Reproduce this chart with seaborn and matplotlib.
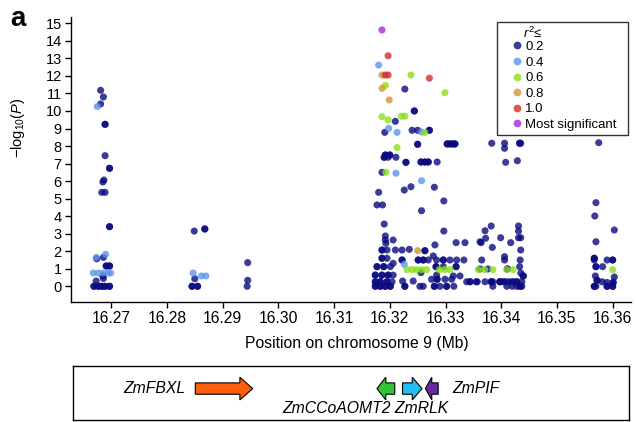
import numpy as np
import pandas as pd
import seaborn as sns
import matplotlib.pyplot as plt
from matplotlib.lines import Line2D

sns.set_theme(style="ticks")
plt.rcParams["font.family"] = ["Liberation Sans", "DejaVu Sans"]
plt.rcParams["mathtext.fontset"] = "custom"
plt.rcParams["mathtext.rm"] = "Liberation Sans"
plt.rcParams["mathtext.it"] = "Liberation Sans:italic"
for k in ["text.color", "axes.labelcolor", "xtick.color", "ytick.color"]:
    plt.rcParams[k] = "black"

# LD classes (r2 <=) and their colours
r2_classes = ["0.2", "0.4", "0.6", "0.8", "1.0", "Most significant"]
r2_colors = ["#0a0a80", "#5c95ec", "#88e018", "#d39531", "#cd312b", "#a12ae0"]

# (position Mb, -log10 P) per class
snp_02 = [
    # 16.27 block
    (16.2681, 11.18), (16.2686, 10.80), (16.2681, 10.40),
    (16.2689, 9.24), (16.2689, 9.24), (16.2689, 7.45),
    (16.2697, 6.73), (16.2697, 6.73), (16.2687, 6.06), (16.2685, 5.95),
    (16.2683, 5.36), (16.2689, 5.36), (16.2697, 3.40), (16.2697, 3.40),
    (16.2674, 1.57), (16.2686, 1.65),
    (16.2691, 1.16), (16.2691, 1.16), (16.2697, 1.16), (16.2697, 1.16),
    (16.2685, 0.59), (16.2686, 0.45), (16.2673, 0.30),
    (16.2669, 0.0), (16.2669, 0.0), (16.2677, 0.0), (16.2677, 0.0),
    (16.2683, 0.0), (16.2683, 0.0), (16.2689, 0.0), (16.2689, 0.0),
    (16.2697, 0.0), (16.2697, 0.0),
    # 16.285 / 16.294
    (16.2849, 3.15), (16.2868, 3.27), (16.2868, 3.27), (16.2850, 0.43),
    (16.2845, 0.0), (16.2845, 0.0), (16.2855, 0.0), (16.2855, 0.0),
    (16.2945, 1.35), (16.2945, 0.34), (16.2944, 0.0),
    # main block, upper part
    (16.3227, 11.25), (16.3244, 10.0), (16.3244, 10.0), (16.3210, 9.41),
    (16.3191, 8.78), (16.3240, 8.90), (16.3250, 8.90), (16.3271, 8.90), (16.3271, 8.90),
    (16.3250, 8.10), (16.3250, 8.10),
    (16.3303, 8.12), (16.3303, 8.12), (16.3308, 8.12), (16.3308, 8.12),
    (16.3313, 8.12), (16.3313, 8.12), (16.3317, 8.12), (16.3317, 8.12),
    (16.3383, 8.16), (16.3406, 8.16), (16.3406, 7.87),
    (16.3433, 8.16), (16.3433, 8.16), (16.3435, 8.16),
    (16.3192, 7.49), (16.3192, 7.49), (16.3200, 7.49), (16.3200, 7.49),
    (16.3190, 7.36), (16.3190, 7.36), (16.3197, 7.36), (16.3211, 7.36),
    (16.3229, 7.07), (16.3229, 7.07),
    (16.3256, 7.09), (16.3256, 7.09), (16.3263, 7.09), (16.3263, 7.09),
    (16.3269, 7.09), (16.3269, 7.09), (16.3285, 7.09),
    (16.3408, 7.07), (16.3429, 7.16),
    (16.3186, 6.50), (16.3226, 5.49), (16.3238, 5.68), (16.3280, 5.65),
    (16.3180, 5.36), (16.3177, 4.64), (16.3187, 4.64), (16.3297, 4.87),
    (16.3257, 4.31), (16.3190, 3.55),
    (16.3192, 2.87), (16.3192, 2.64), (16.3193, 2.45), (16.3206, 2.64),
    (16.3297, 3.15), (16.3319, 2.49), (16.3335, 2.49), (16.3362, 2.54),
    (16.3371, 3.17), (16.3382, 3.44), (16.3431, 3.44), (16.3431, 3.15),
    (16.3431, 2.77), (16.3435, 2.77), (16.3372, 2.74), (16.3364, 2.49),
    (16.3399, 2.77), (16.3417, 2.49), (16.3384, 2.22), (16.3435, 2.07),
    (16.3406, 1.69), (16.3406, 1.50), (16.3365, 1.50), (16.3434, 1.50),
    (16.3281, 2.36),
    # main block, y 1.5 - 2
    (16.3186, 2.07), (16.3186, 2.07), (16.3195, 2.07), (16.3210, 2.07),
    (16.3222, 2.07), (16.3235, 2.11), (16.3263, 2.03), (16.3263, 2.03),
    (16.3278, 1.73), (16.3186, 1.60), (16.3186, 1.60), (16.3195, 1.60),
    (16.3222, 1.50), (16.3222, 1.50), (16.3251, 1.50), (16.3251, 1.50),
    (16.3260, 1.50), (16.3260, 1.50), (16.3269, 1.50), (16.3284, 1.50),
    (16.3296, 1.50), (16.3296, 1.50), (16.3308, 1.50), (16.3320, 1.50),
    (16.3333, 1.50),
    # main block, y ~ 1
    (16.3177, 1.12), (16.3177, 1.12), (16.3189, 1.12), (16.3189, 1.12),
    (16.3201, 1.12), (16.3206, 1.31), (16.3283, 1.12), (16.3283, 1.12),
    (16.3296, 1.12), (16.3319, 1.12), (16.3319, 1.12), (16.3256, 0.78),
    (16.3284, 0.64), (16.3362, 0.99), (16.3376, 0.99), (16.3411, 0.99),
    (16.3411, 0.99), (16.3433, 1.12), (16.3435, 0.76), (16.3439, 0.59),
    # main block, bottom rows
    (16.3174, 0.64), (16.3174, 0.64), (16.3186, 0.64), (16.3186, 0.64),
    (16.3197, 0.64), (16.3197, 0.64), (16.3206, 0.64),
    (16.3174, 0.26), (16.3174, 0.26), (16.3183, 0.26), (16.3183, 0.26),
    (16.3195, 0.26), (16.3195, 0.26), (16.3204, 0.26),
    (16.3174, 0.0), (16.3174, 0.0), (16.3183, 0.0), (16.3183, 0.0),
    (16.3192, 0.0), (16.3192, 0.0), (16.3201, 0.0), (16.3201, 0.0),
    (16.3223, 0.30), (16.3242, 0.30), (16.3227, 0.0), (16.3227, 0.0),
    (16.3254, 0.0), (16.3260, 0.0),
    (16.3275, 0.40), (16.3285, 0.40), (16.3285, 0.40), (16.3299, 0.40), (16.3311, 0.40),
    (16.3280, 0.0), (16.3280, 0.0), (16.3290, 0.0), (16.3302, 0.0), (16.3302, 0.0),
    (16.3315, 0.0), (16.3314, 0.59), (16.3326, 0.59),
    (16.3338, 0.26), (16.3344, 0.26), (16.3344, 0.26), (16.3355, 0.26),
    (16.3357, 0.26), (16.3371, 0.26), (16.3382, 0.26), (16.3382, 0.26),
    (16.3385, 0.26), (16.3397, 0.26), (16.3398, 0.26), (16.3398, 0.26),
    (16.3404, 0.26), (16.3407, 0.26), (16.3413, 0.26), (16.3419, 0.26),
    (16.3422, 0.26), (16.3428, 0.26), (16.3428, 0.26), (16.3437, 0.26),
    (16.3440, 0.59), (16.3385, 0.0), (16.3410, 0.0), (16.3420, 0.0),
    (16.3428, 0.0), (16.3434, 0.0), (16.3434, 0.0), (16.3437, 0.0),
    # 16.357 / 16.36
    (16.3575, 8.19), (16.3570, 4.77), (16.3568, 4.01), (16.3603, 3.21),
    (16.3570, 2.54), (16.3567, 1.60), (16.3567, 1.60), (16.3567, 1.50),
    (16.3590, 1.50), (16.3600, 1.50), (16.3600, 1.50),
    (16.3570, 1.12), (16.3570, 1.12), (16.3582, 1.12), (16.3569, 0.59),
    (16.3572, 0.34), (16.3572, 0.34), (16.3581, 0.26), (16.3590, 0.22),
    (16.3601, 0.22), (16.3601, 0.22), (16.3603, 0.53),
    (16.3567, 0.0), (16.3567, 0.0), (16.3570, 0.0), (16.3590, 0.0),
    (16.3590, 0.0), (16.3600, 0.0), (16.3600, 0.0),
]
snp_04 = [
    (16.2675, 10.25), (16.2673, 1.65), (16.2690, 1.83),
    (16.2668, 0.76), (16.2677, 0.76), (16.2686, 0.76), (16.2695, 0.76), (16.2699, 0.76),
    (16.2847, 0.76), (16.2862, 0.59), (16.2870, 0.59),
    (16.3180, 12.62), (16.3198, 9.01), (16.3213, 8.78), (16.3257, 8.80),
    (16.3211, 6.45), (16.3257, 6.02), (16.3226, 1.25),
]
snp_06 = [
    (16.3238, 12.05), (16.3192, 11.45), (16.3299, 11.04),
    (16.3186, 9.67), (16.3197, 9.49), (16.3221, 9.70), (16.3227, 9.70),
    (16.3263, 8.78), (16.3213, 7.91), (16.3193, 6.50),
    (16.3231, 0.95), (16.3240, 0.95), (16.3248, 0.95), (16.3257, 0.95),
    (16.3266, 0.95), (16.3289, 0.95), (16.3299, 0.95), (16.3308, 0.95),
    (16.3359, 0.95), (16.3370, 0.95), (16.3385, 0.95), (16.3410, 0.95),
    (16.3421, 0.95), (16.3600, 0.95),
]
snp_08 = [(16.3186, 12.05), (16.3186, 11.29), (16.3199, 10.63), (16.3250, 2.03)]
snp_10 = [(16.3197, 13.15), (16.3192, 12.05), (16.3197, 12.05), (16.3271, 11.87)]
snp_top = [(16.3186, 14.62)]

x_ticks = [16.27, 16.28, 16.29, 16.30, 16.31, 16.32, 16.33, 16.34, 16.35, 16.36]
y_ticks = list(range(16))

# gene models
gene_names = ["ZmFBXL", "ZmCCoAOMT2", "ZmRLK", "ZmPIF"]
gene_start = [16.2851, 16.3177, 16.3223, 16.3264]
gene_end = [16.2954, 16.3209, 16.3258, 16.3287]
gene_strand = [1, -1, 1, -1]
gene_colors = ["#ff5f0a", "#33c433", "#22bff0", "#6a2a9e"]

groups = [snp_02, snp_04, snp_06, snp_08, snp_10, snp_top]
frames = []
for cls, pts in zip(r2_classes, groups):
    d = pd.DataFrame(pts, columns=["pos", "logp"])
    d["r2"] = cls
    frames.append(d)
df = pd.concat(frames, ignore_index=True)

fig = plt.figure(figsize=(6.36, 4.22), dpi=100)
ax = fig.add_axes([0.1124, 0.285, 0.8798, 0.6747])

sns.scatterplot(data=df, x="pos", y="logp", hue="r2", hue_order=r2_classes,
                palette=dict(zip(r2_classes, r2_colors)), s=26, alpha=0.8,
                linewidth=0, legend=False, ax=ax)

ax.set_xlim(16.26287, 16.3633)
ax.set_ylim(-0.88, 15.36)
ax.set_xticks(x_ticks)
ax.set_xticklabels([f"{t:.2f}" for t in x_ticks])
ax.set_yticks(y_ticks)
ax.tick_params(axis="x", labelsize=11.3, length=4, width=1, pad=3)
ax.tick_params(axis="y", labelsize=10.5, length=4.5, width=1, pad=2.5)
sns.despine(ax=ax)
for sp in ["left", "bottom"]:
    ax.spines[sp].set_color("black")
    ax.spines[sp].set_linewidth(1)

ax.set_xlabel("Position on chromosome 9 (Mb)", fontsize=11.3)
ax.xaxis.set_label_coords(0.51, -0.12)
ax.set_ylabel("\u2212log$_{10}$($\\mathit{P}$)", fontsize=10.5)
ax.yaxis.set_label_coords(-0.0795, 0.61)

handles = [Line2D([], [], marker="o", ls="", color=c, alpha=0.8,
                  markersize=5.6, markeredgewidth=0) for c in r2_colors]
# trailing blanks widen the box on the right like the original
leg_labels = r2_classes[:-1] + [r2_classes[-1] + "  "]
leg = ax.legend(handles, leg_labels, title="      $\\mathit{r}^2$\u2264",
                loc="upper right", bbox_to_anchor=(0.9946, 0.9835),
                frameon=True, fancybox=False, edgecolor="black",
                fontsize=9.5, title_fontsize=9.5, handlelength=2.4,
                handletextpad=-0.58, labelspacing=0.25, borderpad=0.3,
                borderaxespad=0)
leg.get_frame().set_linewidth(1)
leg._legend_box.align = "left"
leg._legend_box.sep = 0

# gene track
gax = fig.add_axes([0.114, 0.005, 0.875, 0.128])
gax.set_xlim(16.26305, 16.36296)
gax.set_ylim(0, 1)
gax.set_xticks([])
gax.set_yticks([])
for sp in gax.spines.values():
    sp.set_color("black")
    sp.set_linewidth(1)

for name, s, e, strand, col in zip(gene_names, gene_start, gene_end, gene_strand, gene_colors):
    length = e - s
    x0 = s if strand > 0 else e
    gax.arrow(x0, 0.58, strand * length, 0, width=0.21, head_width=0.42,
              head_length=min(0.0023, 0.5 * length), length_includes_head=True,
              fc=col, ec="black", lw=0.8)

gax.text(16.2833, 0.58, "ZmFBXL", ha="right", va="center", style="italic", fontsize=11.3)
gax.text(16.3312, 0.58, "ZmPIF", ha="left", va="center", style="italic", fontsize=11.3)
gax.text(16.3157, 0.22, "ZmCCoAOMT2 ZmRLK", ha="center", va="center", style="italic", fontsize=11.3)

fig.text(0.0165, 0.938, "a", fontsize=20, fontweight="bold", va="baseline")

fig.savefig("out.png", dpi=100)
